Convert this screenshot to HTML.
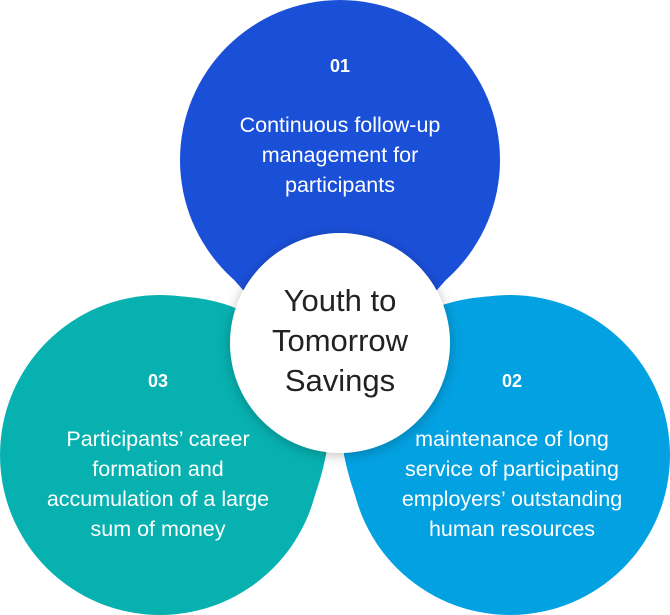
<!DOCTYPE html>
<html><head><meta charset="utf-8"><style>
html,body{margin:0;padding:0;background:#fff;}
svg{display:block;font-family:"Source Sans Pro","Liberation Sans",sans-serif;}
</style></head><body>
<svg width="670" height="615" viewBox="0 0 670 615">
<defs>
<filter id="sh" x="-20%" y="-20%" width="140%" height="140%"><feDropShadow dx="0" dy="2" stdDeviation="6" flood-color="#000" flood-opacity="0.25"/></filter>
</defs>
<g fill="#1a4fd8">
<circle cx="340" cy="160" r="160"/>
<path d="M209,249 Q225,270 243,290 L340,343 L437,290 Q455,270 471,249 Z"/>
</g>
<g fill="#06b1b0">
<circle cx="160" cy="455" r="160"/>
<path d="M150,296 Q205,294 240,310 L340,343 L326,455 Q316,505 290,548 Z"/>
</g>
<g fill="#02a1e1">
<circle cx="510" cy="455" r="160"/>
<path d="M520,296 Q465,294 430,310 L340,343 L344,455 Q354,505 380,548 Z"/>
</g>
<circle cx="340" cy="343" r="110" fill="#fff" filter="url(#sh)"/>
<g fill="#fff" text-anchor="middle" font-size="21.5">
<text x="340" y="72" font-weight="bold" font-size="18">01</text>
<text x="340" y="132">Continuous follow-up</text>
<text x="340" y="162">management for</text>
<text x="340" y="192">participants</text>
<text x="158" y="387" font-weight="bold" font-size="18">03</text>
<text x="158" y="446">Participants’ career</text>
<text x="158" y="476">formation and</text>
<text x="158" y="506">accumulation of a large</text>
<text x="158" y="536">sum of money</text>
<text x="512" y="387" font-weight="bold" font-size="18">02</text>
<text x="512" y="446">maintenance of long</text>
<text x="512" y="476">service of participating</text>
<text x="512" y="506">employers’ outstanding</text>
<text x="512" y="536">human resources</text>
</g>
<g fill="#222" text-anchor="middle" font-size="31">
<text x="340" y="311">Youth to</text>
<text x="340" y="351">Tomorrow</text>
<text x="340" y="391">Savings</text>
</g>
</svg>
</body></html>
